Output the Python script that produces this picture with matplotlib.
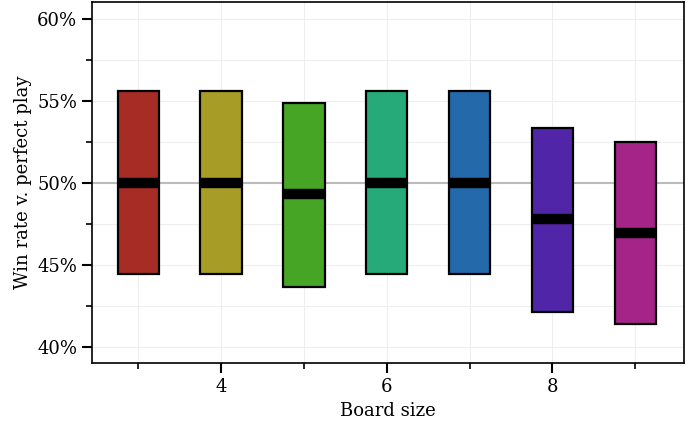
import matplotlib
matplotlib.use("Agg")
import matplotlib.pyplot as plt
from matplotlib.ticker import MultipleLocator, FixedLocator, PercentFormatter

# board sizes and win-rate ranges (percent)
board_sizes = [3, 4, 5, 6, 7, 8, 9]
low = [44.4, 44.4, 43.65, 44.4, 44.4, 42.1, 41.35]
high = [55.6, 55.6, 54.85, 55.6, 55.6, 53.3, 52.5]
median = [50.0, 50.0, 49.3, 50.0, 50.0, 47.75, 46.95]
colors = ["#a82c26", "#a79d26", "#47a526", "#27aa79", "#2469a9", "#5025a7", "#a52488"]

plt.rcParams['font.family'] = ['DejaVu Serif']
plt.rcParams['font.size'] = 13

fig, ax = plt.subplots(figsize=(6.91, 4.22), dpi=100)
fig.subplots_adjust(left=0.133, right=0.99, top=0.995, bottom=0.14)

ax.axhline(50, color="#bbbbbb", lw=1.5, zorder=1)

width = 0.5
heights = [h - l for h, l in zip(high, low)]
ax.bar(board_sizes, heights, bottom=low, width=width, color=colors,
       edgecolor="black", linewidth=1.6, zorder=2)
ax.hlines(median, [b - width / 2 for b in board_sizes], [b + width / 2 for b in board_sizes],
          color="black", lw=7.5, zorder=3)

ax.set_xlim(2.44, 9.59)
ax.set_ylim(39, 61)
ax.xaxis.set_major_locator(FixedLocator([4, 6, 8]))
ax.xaxis.set_minor_locator(FixedLocator([3, 5, 7, 9]))
ax.yaxis.set_major_locator(MultipleLocator(5))
ax.yaxis.set_minor_locator(MultipleLocator(2.5))
ax.yaxis.set_major_formatter(PercentFormatter(decimals=0))

ax.grid(which="both", color="#eeeeee", lw=0.8, zorder=0)
ax.set_axisbelow(True)
for s in ax.spines.values():
    s.set_linewidth(1.2)
ax.tick_params(which="major", length=7, width=1.5)
ax.tick_params(which="minor", length=4.5, width=1.2)

ax.set_xlabel("Board size", labelpad=5)
ax.set_ylabel("Win rate v. perfect play")

fig.savefig("out.png", dpi=100)
